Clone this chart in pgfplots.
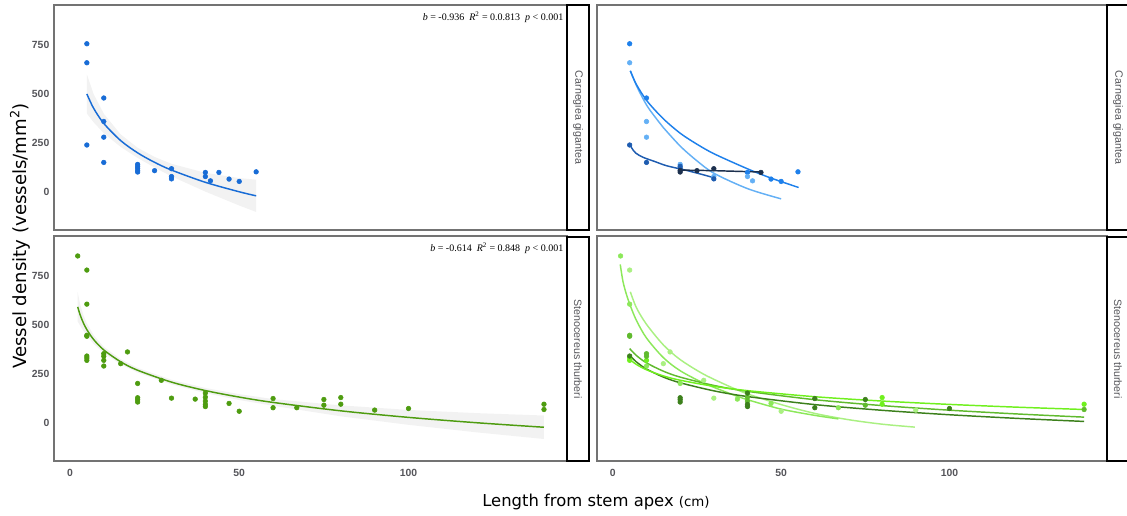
\documentclass[border=0pt]{standalone}
\usepackage{pgfplots}
\pgfplotsset{compat=1.18}
\usepackage{fontspec}
\setmainfont{DejaVu Sans}
\newfontfamily\arialf{Liberation Sans}
\newfontfamily\serf{Liberation Serif}
\definecolor{cblue}{RGB}{24,108,214}
\definecolor{cgreen}{RGB}{78,156,16}
\definecolor{bmid}{RGB}{30,128,235}
\definecolor{blight}{RGB}{100,176,245}
\definecolor{bdark}{RGB}{30,92,176}
\definecolor{bnavy}{RGB}{28,48,78}
\definecolor{gA}{RGB}{140,232,90}
\definecolor{gB}{RGB}{170,240,130}
\definecolor{gC}{RGB}{112,240,30}
\definecolor{gD}{RGB}{96,186,46}
\definecolor{gE}{RGB}{60,128,28}
\definecolor{ribbon}{RGB}{242,242,242}
\definecolor{panelgray}{RGB}{115,115,115}
\definecolor{tickgray}{RGB}{85,85,90}
\pgfplotsset{
  panel/.style={
    scale only axis, height=168.75pt,
    xmin=-4.7, xmax=146.8, ymin=-193, ymax=956,
    axis line style={draw=panelgray, line width=1.1pt},
    major tick length=0pt, tick style={draw=none},
    xtick={0,50,100}, ytick={0,250,500,750},
    tick label style={font=\arialf\bfseries\fontsize{7.8}{8}\selectfont, text=tickgray},
    xticklabel style={yshift=-2.5pt},
    /pgf/number format/assume math mode=true,
  },
  pts/.style={only marks, mark=*, mark size=1.75pt, #1, mark options={draw=#1, fill=#1}},
  fit/.style={#1, line width=1.1pt, smooth, no marks},
}
\newcommand{\stripfont}{\arialf\fontsize{8}{9}\selectfont\color{tickgray}}
\newcommand{\annfont}{\serf\fontsize{7.5}{8.5}\selectfont}
\begin{document}
\begin{tikzpicture}
\path[use as bounding box] (0pt,0pt) rectangle (845.25pt,387pt);
% ---------------- top left ----------------
\begin{axis}[panel, at={(40.5pt,214.5pt)}, anchor=south west, width=384.75pt, xticklabels={}]
\addplot[fill=ribbon, draw=none] coordinates {(5,602)(7,501)(10,401)(15,295)(20,227)(25,180)(30,145)(40,99)(50,72)(55,64)(55,-101)(50,-68)(40,3)(30,81)(25,126)(20,175)(15,231)(10,301)(7,357)(5,402)} -- cycle;
\addplot[fit=cblue] coordinates {(5,501.8)(7,428.7)(10,351.3)(15,263.4)(20,200.9)(25,152.5)(30,113)(40,50.5)(50,2.1)(55,-18.5)};
\addplot[pts=cblue] coordinates {(5,758)(5,661)(5,241)(10,481)(10,361)(10,281)(10,152)(20,142)(20,132)(20,122)(20,111)(20,103)(25,110)(30,120)(30,80)(30,68)(40,101)(40,80)(41.5,58)(44,101)(47,67)(50,55)(55,104)};
\node[anchor=north east, font=\annfont, inner sep=1pt] at (rel axis cs:0.996,0.978) {\textit{b} = -0.936~~\textit{R}\textsuperscript{2} = 0.0.813~~\textit{p} < 0.001};
\end{axis}
% ---------------- top right ----------------
\begin{axis}[panel, at={(447.75pt,214.5pt)}, anchor=south west, width=382.5pt, xticklabels={}, yticklabels={}]
\addplot[fit=blight] coordinates {(5.2,620)(7.3,534)(10.2,440)(13.4,365)(15,330)(20.1,234)(25,160)(30.2,95)(40.2,17)(50,-34)};
\addplot[fit=bmid] coordinates {(5.2,620)(7,550)(10.2,465)(15,375)(20.1,300)(25,245)(30.2,195)(40.2,118)(47,72)(55.2,24)};
\addplot[fit=bdark] coordinates {(5.2,243)(5.6,226)(6.8,200)(9,178)(12.4,157)(16,135)(21,115)(26,93)(30.2,73)};
\addplot[bnavy, line width=1.1pt, no marks] coordinates {(20,113)(30,110)(44.2,103)};
\addplot[pts=bmid] coordinates {(5,758)(10,481)(40,101)(47,67)(50,55)(55,104)};
\addplot[pts=blight] coordinates {(5,661)(10,361)(10,281)(20,142)(30,80)(40,80)(41.5,58)};
\addplot[pts=bdark] coordinates {(5,241)(10,152)(20,122)(20,132)(30,68)};
\addplot[pts=bnavy] coordinates {(20,111)(20,103)(25,110)(30,120)(44,101)};
\end{axis}
% ---------------- bottom left ----------------
\begin{axis}[panel, at={(40.5pt,41.25pt)}, anchor=south west, width=384.75pt]
\addplot[fill=ribbon, draw=none] coordinates {(2.3,669)(3,609.2)(4,551.2)(5,509.9)(7,449.5)(10,390.1)(15,326.5)(20,282.4)(30,221.8)(40,179.7)(50,148.4)(60,123.1)(80,91.1)(100,67.7)(120,51.5)(140,39.3)(140,-80.7)(120,-46.5)(100,-8.3)(80,35.1)(60,89.1)(50,118.4)(40,153.7)(30,197.8)(20,258.4)(15,300.5)(10,358.1)(7,405.5)(5,445.9)(4,471.2)(3,499.2)(2.3,519)} -- cycle;
\addplot[fit=cgreen] coordinates {(2.3,594)(3,554.2)(4,511.2)(5,477.9)(7,427.5)(10,374.1)(15,313.5)(20,270.4)(30,209.8)(40,166.7)(50,133.4)(60,106.1)(80,63.1)(100,29.7)(120,2.5)(140,-20.7)};
\addplot[pts=cgreen] coordinates {(2.3,854)(5,782)(5,608)(5,449)(5,444)(5,343)(5,333)(5,321)(10,355)(10,342)(10,321)(10,292)(15,304)(17,364)(20,203)(20,130)(20,120)(20,108)(27,219)(30,128)(37,123)(40,154)(40,133)(40,113)(40,96)(40,85)(47,101)(50,61)(60,126)(60,79)(67,79)(75,121)(75,92)(80,131)(80,97)(90,67)(100,75)(140,97)(140,70)};
\node[anchor=north east, font=\annfont, inner sep=1pt] at (rel axis cs:0.996,0.978) {\textit{b} = -0.614~~\textit{R}\textsuperscript{2} = 0.848~~\textit{p} < 0.001};
\end{axis}
% ---------------- bottom right ----------------
\begin{axis}[panel, at={(447.75pt,41.25pt)}, anchor=south west, width=382.5pt, yticklabels={}]
\addplot[fit=gB] coordinates {(5.2,671)(7,590)(10,505)(15,400)(20,325)(27,250)(35,185)(40,150)(50,95)(60,50)(70,18)(80,-5)(89.7,-20)};
\addplot[fit=gA] coordinates {(2.2,811)(3,725)(4,660)(5.2,600)(7,525)(10,435)(15,335)(20,268)(27,205)(35,150)(40,120)(50,72)(60,40)(67,22)};
\addplot[fit=gE] coordinates {(5,347)(7,312.9)(10,276.7)(15,235.6)(20,206.4)(30,165.3)(40,136.1)(60,95)(80,65.9)(100,43.2)(120,24.7)(140,9)};
\addplot[fit=gD] coordinates {(5,381)(7,345.7)(10,308)(15,265.7)(20,235.4)(30,192.9)(40,162.7)(60,120.1)(80,89.9)(100,66.5)(120,47.3)(140,31)};
\addplot[fit=gC] coordinates {(5,326)(7,300)(10,272.8)(15,241.6)(20,219.5)(30,188.4)(40,166.3)(60,135.2)(80,113.1)(100,96)(120,81.9)(140,70)};
\addplot[pts=gA] coordinates {(2.3,854)(5,608)(10,292)(20,203)(37,123)(47,101)(67,79)};
\addplot[pts=gB] coordinates {(5,782)(15,304)(17,364)(27,219)(30,128)(50,61)(90,67)};
\addplot[pts=gC] coordinates {(5,333)(5,321)(10,321)(80,131)(80,97)(140,97)};
\addplot[pts=gD] coordinates {(5,449)(5,444)(10,355)(10,342)(40,133)(40,113)(75,92)(140,70)};
\addplot[pts=gE] coordinates {(5,343)(20,130)(20,120)(20,108)(40,154)(40,96)(40,85)(60,126)(60,79)(75,121)(100,75)};
\end{axis}
% ---------------- strips ----------------
\draw[black, line width=1.1pt, fill=white] (425.25pt,214.5pt) rectangle (441.75pt,383.25pt);
\node[rotate=-90, font=\stripfont] at (433.5pt,298.9pt) {Carnegiea gigantea};
\draw[black, line width=1.1pt, fill=white] (425.25pt,41.25pt) rectangle (441.75pt,209.25pt);
\node[rotate=-90, font=\stripfont] at (433.5pt,125.25pt) {Stenocereus thurberi};
\draw[black, line width=1.1pt, fill=white] (830.25pt,214.5pt) rectangle (850pt,383.25pt);
\node[rotate=-90, font=\stripfont] at (838.5pt,298.9pt) {Carnegiea gigantea};
\draw[black, line width=1.1pt, fill=white] (830.25pt,41.25pt) rectangle (850pt,209.25pt);
\node[rotate=-90, font=\stripfont] at (838.5pt,125.25pt) {Stenocereus thurberi};
% ---------------- axis titles ----------------
\node[rotate=90, font=\fontsize{13.6}{15}\selectfont] at (15pt,210pt) {Vessel density (vessels/mm\textsuperscript{2})};
\node[font=\fontsize{12.3}{14}\selectfont] at (447pt,10.5pt) {Length from stem apex {\fontsize{10}{11}\selectfont (cm)}};
\end{tikzpicture}
\end{document}
